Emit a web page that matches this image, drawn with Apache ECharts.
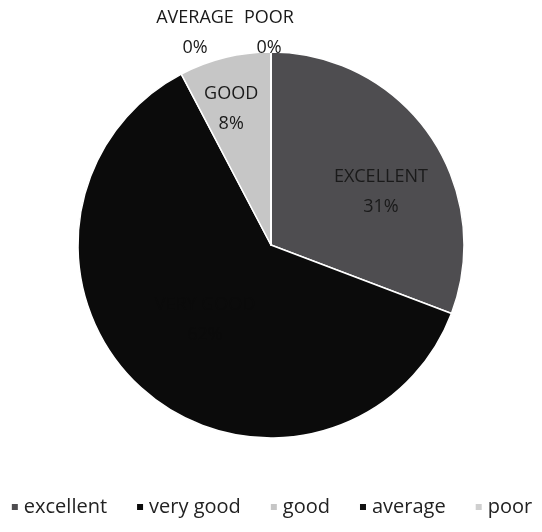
<!DOCTYPE html>
<html>
<head>
<meta charset="utf-8">
<script src="https://cdn.jsdelivr.net/npm/echarts@6/dist/echarts.min.js"></script>
<style>
  html, body { margin: 0; padding: 0; background: #fff; }
  #chart { width: 542px; height: 532px; }
</style>
</head>
<body>
<div id="chart"></div>
<script>
// ratings and how many answered each
let categories = ['excellent', 'very good', 'good', 'average', 'poor']
let counts = [4, 8, 1, 0, 0]
let sliceColors = ['#4e4d50', '#0b0b0b', '#c6c6c6', '#111111', '#cfcfcf']

let myChart = echarts.init(document.getElementById('chart'))

let pieData = categories.map(function (name, i) {
    let item = { name: name, value: counts[i], itemStyle: { color: sliceColors[i] } }
    if (i === 1) {
        // black text on the black slice, so it cannot be seen
        item.label = { color: '#0b0b0b' }
    }
    if (counts[i] === 0) {
        item.label = { position: 'outside' }
        item.labelLine = { show: i === 4, length: 6, length2: 0, lineStyle: { color: '#aaa', width: 1 } }
    }
    return item
})

let option = {
    animation: false,
    legend: {
        bottom: 10,
        left: 'center',
        itemWidth: 8,
        itemHeight: 8,
        itemGap: 28,
        icon: 'rect',
        textStyle: { fontSize: 20, color: '#222', fontFamily: 'Open Sans' },
        data: categories
    },
    series: [
        {
            type: 'pie',
            center: [271, 245],
            radius: 193,
            startAngle: 90,
            clockwise: true,
            itemStyle: { borderColor: '#fff', borderWidth: 1.5 },
            label: {
                show: true,
                position: 'inside',
                color: '#1a1a1a',
                fontSize: 18,
                fontFamily: 'Open Sans',
                lineHeight: 30,
                formatter: function (p) {
                    return p.name.toUpperCase() + '\n' + Math.round(p.percent) + '%'
                }
            },
            labelLayout: function (p) {
                if (p.dataIndex === 0) return { dx: 28, dy: 3 }
                if (p.dataIndex === 2) return { dx: -16, dy: -40 }
                if (p.dataIndex === 3) return { x: 195, y: 33, align: 'center', verticalAlign: 'middle' }
                if (p.dataIndex === 4) return { x: 269, y: 33, align: 'center', verticalAlign: 'middle' }
                return {}
            },
            data: pieData
        }
    ]
}

myChart.setOption(option)
</script>
</body>
</html>
